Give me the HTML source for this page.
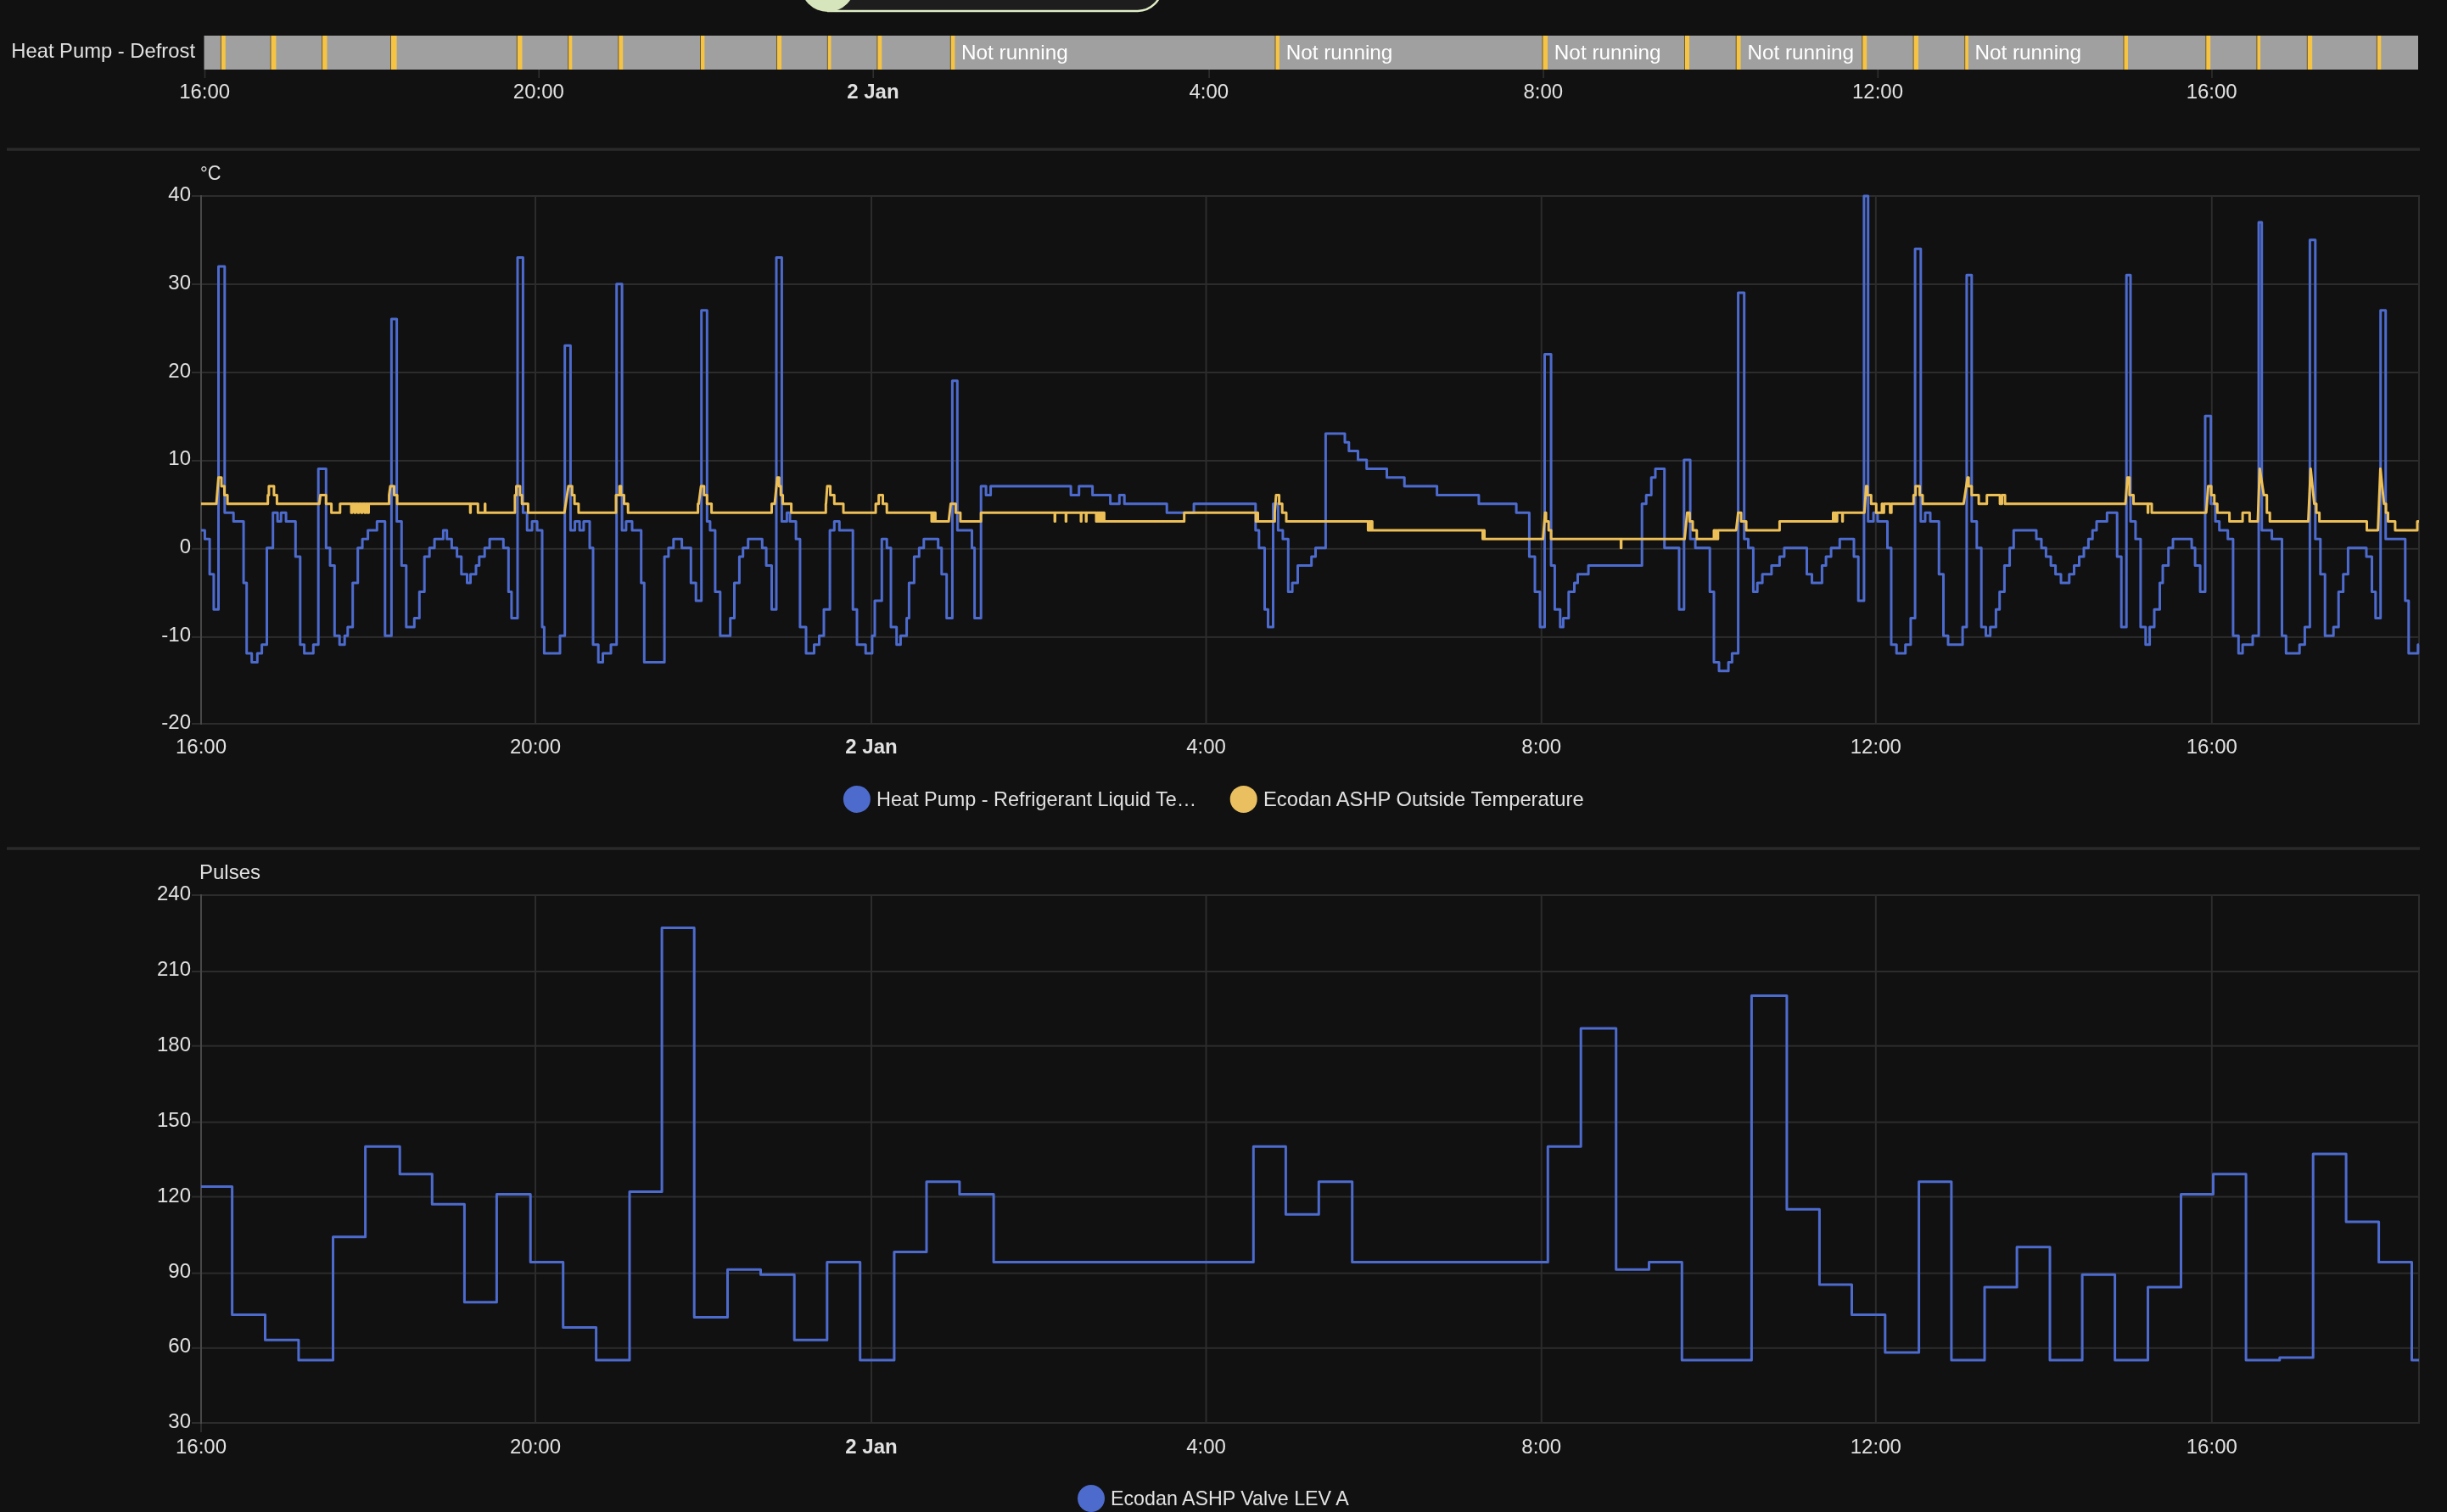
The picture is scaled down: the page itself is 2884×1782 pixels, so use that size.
<!DOCTYPE html><html><head><meta charset="utf-8"><title>History</title><style>
html,body{margin:0;padding:0;background:#111111;width:100%;height:100%;overflow:hidden}
svg{display:block;width:100vw;height:100vh;will-change:transform}text{font-family:'Liberation Sans', Arial, sans-serif}
</style></head><body>
<svg viewBox="0 0 2884 1782" preserveAspectRatio="none">
<rect width="2884" height="1782" fill="#111111"/>
<path d="M975 -70H1369V-15A28 28 0 0 1 1341 13H975Z" fill="#1d1d1d"/>
<path d="M975 12.9H1341A28 28 0 0 0 1369 -15V-70" fill="none" stroke="#dfedc6" stroke-width="2.5"/>
<circle cx="975.6" cy="-18.3" r="32.2" fill="#d7e5bc"/>
<text x="230" y="68.3" font-size="24" fill="#e1e1e1" text-anchor="end" textLength="216.7" lengthAdjust="spacingAndGlyphs">Heat Pump - Defrost</text>
<rect x="240.5" y="42" width="2609.5" height="40" fill="#a0a0a0"/>
<rect x="260.4" y="42" width="5.4" height="40" fill="#f5c444"/>
<rect x="259.9" y="42" width="1" height="40" fill="#6e5a2c"/>
<rect x="319" y="42" width="6.4" height="40" fill="#f5c444"/>
<rect x="318.5" y="42" width="1" height="40" fill="#6e5a2c"/>
<rect x="379.6" y="42" width="5.9" height="40" fill="#f5c444"/>
<rect x="379.1" y="42" width="1" height="40" fill="#6e5a2c"/>
<rect x="460.5" y="42" width="7.1" height="40" fill="#f5c444"/>
<rect x="460" y="42" width="1" height="40" fill="#6e5a2c"/>
<rect x="609.3" y="42" width="6.2" height="40" fill="#f5c444"/>
<rect x="608.8" y="42" width="1" height="40" fill="#6e5a2c"/>
<rect x="669.7" y="42" width="4.6" height="40" fill="#f5c444"/>
<rect x="669.2" y="42" width="1" height="40" fill="#6e5a2c"/>
<rect x="728.8" y="42" width="5.4" height="40" fill="#f5c444"/>
<rect x="728.3" y="42" width="1" height="40" fill="#6e5a2c"/>
<rect x="825.5" y="42" width="4.9" height="40" fill="#f5c444"/>
<rect x="825" y="42" width="1" height="40" fill="#6e5a2c"/>
<rect x="915.5" y="42" width="5.6" height="40" fill="#f5c444"/>
<rect x="915" y="42" width="1" height="40" fill="#6e5a2c"/>
<rect x="975.3" y="42" width="4.2" height="40" fill="#f5c444"/>
<rect x="974.8" y="42" width="1" height="40" fill="#6e5a2c"/>
<rect x="1033.9" y="42" width="5.4" height="40" fill="#f5c444"/>
<rect x="1033.4" y="42" width="1" height="40" fill="#6e5a2c"/>
<rect x="1120.3" y="42" width="5.1" height="40" fill="#f5c444"/>
<rect x="1119.8" y="42" width="1" height="40" fill="#6e5a2c"/>
<rect x="1503" y="42" width="4.9" height="40" fill="#f5c444"/>
<rect x="1502.5" y="42" width="1" height="40" fill="#6e5a2c"/>
<rect x="1818" y="42" width="6" height="40" fill="#f5c444"/>
<rect x="1817.5" y="42" width="1" height="40" fill="#6e5a2c"/>
<rect x="1985.5" y="42" width="5.5" height="40" fill="#f5c444"/>
<rect x="1985" y="42" width="1" height="40" fill="#6e5a2c"/>
<rect x="2046.2" y="42" width="5.4" height="40" fill="#f5c444"/>
<rect x="2045.7" y="42" width="1" height="40" fill="#6e5a2c"/>
<rect x="2194.8" y="42" width="5.4" height="40" fill="#f5c444"/>
<rect x="2194.3" y="42" width="1" height="40" fill="#6e5a2c"/>
<rect x="2255.1" y="42" width="5.9" height="40" fill="#f5c444"/>
<rect x="2254.6" y="42" width="1" height="40" fill="#6e5a2c"/>
<rect x="2315.7" y="42" width="4.2" height="40" fill="#f5c444"/>
<rect x="2315.2" y="42" width="1" height="40" fill="#6e5a2c"/>
<rect x="2503" y="42" width="5" height="40" fill="#f5c444"/>
<rect x="2502.5" y="42" width="1" height="40" fill="#6e5a2c"/>
<rect x="2599.8" y="42" width="5.4" height="40" fill="#f5c444"/>
<rect x="2599.3" y="42" width="1" height="40" fill="#6e5a2c"/>
<rect x="2659.9" y="42" width="4.2" height="40" fill="#f5c444"/>
<rect x="2659.4" y="42" width="1" height="40" fill="#6e5a2c"/>
<rect x="2719.3" y="42" width="5.9" height="40" fill="#f5c444"/>
<rect x="2718.8" y="42" width="1" height="40" fill="#6e5a2c"/>
<rect x="2801.4" y="42" width="4.9" height="40" fill="#f5c444"/>
<rect x="2800.9" y="42" width="1" height="40" fill="#6e5a2c"/>
<text x="1133" y="70" font-size="24" fill="#ffffff" textLength="125.7" lengthAdjust="spacingAndGlyphs">Not running</text>
<text x="1515.7" y="70" font-size="24" fill="#ffffff" textLength="125.7" lengthAdjust="spacingAndGlyphs">Not running</text>
<text x="1831.8" y="70" font-size="24" fill="#ffffff" textLength="125.7" lengthAdjust="spacingAndGlyphs">Not running</text>
<text x="2059.4" y="70" font-size="24" fill="#ffffff" textLength="125.7" lengthAdjust="spacingAndGlyphs">Not running</text>
<text x="2327.4" y="70" font-size="24" fill="#ffffff" textLength="125.7" lengthAdjust="spacingAndGlyphs">Not running</text>
<rect x="240.7" y="82" width="1.6" height="10" fill="#2f2f2f"/>
<text x="241.2" y="116.4" font-size="24" fill="#e1e1e1" text-anchor="middle">16:00</text>
<rect x="634.4" y="82" width="1.6" height="10" fill="#2f2f2f"/>
<text x="634.9" y="116.4" font-size="24" fill="#e1e1e1" text-anchor="middle">20:00</text>
<rect x="1028.4" y="82" width="1.6" height="10" fill="#2f2f2f"/>
<text x="1028.9" y="116.4" font-size="24" fill="#e1e1e1" text-anchor="middle" font-weight="bold">2 Jan</text>
<rect x="1424.3" y="82" width="1.6" height="10" fill="#2f2f2f"/>
<text x="1424.8" y="116.4" font-size="24" fill="#e1e1e1" text-anchor="middle">4:00</text>
<rect x="1818.3" y="82" width="1.6" height="10" fill="#2f2f2f"/>
<text x="1818.8" y="116.4" font-size="24" fill="#e1e1e1" text-anchor="middle">8:00</text>
<rect x="2212.5" y="82" width="1.6" height="10" fill="#2f2f2f"/>
<text x="2213" y="116.4" font-size="24" fill="#e1e1e1" text-anchor="middle">12:00</text>
<rect x="2606.2" y="82" width="1.6" height="10" fill="#2f2f2f"/>
<text x="2606.7" y="116.4" font-size="24" fill="#e1e1e1" text-anchor="middle">16:00</text>
<rect x="8" y="174.3" width="2844" height="3.5" fill="#2a2a2a"/>
<rect x="8" y="998.3" width="2844" height="3.5" fill="#2a2a2a"/>
<rect x="226" y="230" width="2626" height="2" fill="#2c2c2c"/>
<text x="225" y="237.2" font-size="24" fill="#e1e1e1" text-anchor="end">40</text>
<rect x="226" y="334" width="2626" height="2" fill="#2c2c2c"/>
<text x="225" y="340.9" font-size="24" fill="#e1e1e1" text-anchor="end">30</text>
<rect x="226" y="438" width="2626" height="2" fill="#2c2c2c"/>
<text x="225" y="444.5" font-size="24" fill="#e1e1e1" text-anchor="end">20</text>
<rect x="226" y="542" width="2626" height="2" fill="#2c2c2c"/>
<text x="225" y="548.2" font-size="24" fill="#e1e1e1" text-anchor="end">10</text>
<rect x="226" y="645.8" width="2626" height="2" fill="#2c2c2c"/>
<text x="225" y="651.9" font-size="24" fill="#e1e1e1" text-anchor="end">0</text>
<rect x="226" y="749.9" width="2626" height="2" fill="#2c2c2c"/>
<text x="225" y="755.5" font-size="24" fill="#e1e1e1" text-anchor="end">-10</text>
<rect x="226" y="852" width="2626" height="2" fill="#2c2c2c"/>
<text x="225" y="859.2" font-size="24" fill="#e1e1e1" text-anchor="end">-20</text>
<rect x="630" y="230" width="2" height="624" fill="#2c2c2c"/>
<rect x="1026" y="230" width="2" height="624" fill="#2c2c2c"/>
<rect x="1420.5" y="230" width="2" height="624" fill="#2c2c2c"/>
<rect x="1815.7" y="230" width="2" height="624" fill="#2c2c2c"/>
<rect x="2209.8" y="230" width="2" height="624" fill="#2c2c2c"/>
<rect x="2605.8" y="230" width="2" height="624" fill="#2c2c2c"/>
<rect x="2850" y="230" width="2" height="624" fill="#2c2c2c"/>
<rect x="236" y="230" width="2" height="624" fill="#474747"/>
<text x="237" y="888" font-size="24" fill="#e1e1e1" text-anchor="middle">16:00</text>
<text x="631" y="888" font-size="24" fill="#e1e1e1" text-anchor="middle">20:00</text>
<text x="1027" y="888" font-size="24" fill="#e1e1e1" text-anchor="middle" font-weight="bold">2 Jan</text>
<text x="1421.5" y="888" font-size="24" fill="#e1e1e1" text-anchor="middle">4:00</text>
<text x="1816.7" y="888" font-size="24" fill="#e1e1e1" text-anchor="middle">8:00</text>
<text x="2210.8" y="888" font-size="24" fill="#e1e1e1" text-anchor="middle">12:00</text>
<text x="2606.8" y="888" font-size="24" fill="#e1e1e1" text-anchor="middle">16:00</text>
<text x="236" y="212" font-size="24" fill="#e1e1e1" textLength="24.5" lengthAdjust="spacingAndGlyphs">°C</text>
<circle cx="1009.9" cy="941.9" r="16" fill="#4d6bcd"/>
<text x="1033" y="950.2" font-size="24" fill="#e1e1e1" textLength="377.3" lengthAdjust="spacingAndGlyphs">Heat Pump - Refrigerant Liquid Te…</text>
<circle cx="1465.7" cy="941.9" r="16" fill="#e9bf60"/>
<text x="1489" y="950.2" font-size="24" fill="#e1e1e1" textLength="377.6" lengthAdjust="spacingAndGlyphs">Ecodan ASHP Outside Temperature</text>
<rect x="226" y="1054" width="2626" height="2" fill="#2c2c2c"/>
<text x="225" y="1061.2" font-size="24" fill="#e1e1e1" text-anchor="end">240</text>
<rect x="226" y="1144" width="2626" height="2" fill="#2c2c2c"/>
<text x="225" y="1150.1" font-size="24" fill="#e1e1e1" text-anchor="end">210</text>
<rect x="226" y="1231.7" width="2626" height="2" fill="#2c2c2c"/>
<text x="225" y="1238.9" font-size="24" fill="#e1e1e1" text-anchor="end">180</text>
<rect x="226" y="1321.6" width="2626" height="2" fill="#2c2c2c"/>
<text x="225" y="1327.8" font-size="24" fill="#e1e1e1" text-anchor="end">150</text>
<rect x="226" y="1409.5" width="2626" height="2" fill="#2c2c2c"/>
<text x="225" y="1416.6" font-size="24" fill="#e1e1e1" text-anchor="end">120</text>
<rect x="226" y="1499.6" width="2626" height="2" fill="#2c2c2c"/>
<text x="225" y="1505.5" font-size="24" fill="#e1e1e1" text-anchor="end">90</text>
<rect x="226" y="1587.8" width="2626" height="2" fill="#2c2c2c"/>
<text x="225" y="1594.3" font-size="24" fill="#e1e1e1" text-anchor="end">60</text>
<rect x="226" y="1676" width="2626" height="2" fill="#2c2c2c"/>
<text x="225" y="1683.2" font-size="24" fill="#e1e1e1" text-anchor="end">30</text>
<rect x="630" y="1054" width="2" height="624" fill="#2c2c2c"/>
<rect x="1026" y="1054" width="2" height="624" fill="#2c2c2c"/>
<rect x="1420.5" y="1054" width="2" height="624" fill="#2c2c2c"/>
<rect x="1815.7" y="1054" width="2" height="624" fill="#2c2c2c"/>
<rect x="2209.8" y="1054" width="2" height="624" fill="#2c2c2c"/>
<rect x="2605.8" y="1054" width="2" height="624" fill="#2c2c2c"/>
<rect x="2850" y="1054" width="2" height="624" fill="#2c2c2c"/>
<rect x="236" y="1054" width="2" height="624" fill="#474747"/>
<text x="237" y="1712.5" font-size="24" fill="#e1e1e1" text-anchor="middle">16:00</text>
<text x="631" y="1712.5" font-size="24" fill="#e1e1e1" text-anchor="middle">20:00</text>
<text x="1027" y="1712.5" font-size="24" fill="#e1e1e1" text-anchor="middle" font-weight="bold">2 Jan</text>
<text x="1421.5" y="1712.5" font-size="24" fill="#e1e1e1" text-anchor="middle">4:00</text>
<text x="1816.7" y="1712.5" font-size="24" fill="#e1e1e1" text-anchor="middle">8:00</text>
<text x="2210.8" y="1712.5" font-size="24" fill="#e1e1e1" text-anchor="middle">12:00</text>
<text x="2606.8" y="1712.5" font-size="24" fill="#e1e1e1" text-anchor="middle">16:00</text>
<text x="235" y="1036" font-size="24" fill="#e1e1e1" textLength="72" lengthAdjust="spacingAndGlyphs">Pulses</text>
<circle cx="1286" cy="1766" r="16" fill="#4d6bcd"/>
<text x="1309" y="1774.3" font-size="24" fill="#e1e1e1" textLength="280.8" lengthAdjust="spacingAndGlyphs">Ecodan ASHP Valve LEV A</text>
<rect x="236" y="1678" width="2" height="10" fill="#2c2c2c"/>
<path d="M237 624.9H241.4V635.3H247.1V676.8H251.9V718.2H257.5V313.9H264.8V604.2H275.2V614.6H287.1V687.1H290.7V770.1H296.7V780.4H303.3V770.1H308.6V759.7H314.5V645.7H321.7V604.2H327.1V614.6H331.2V604.2H337.1V614.6H348.3V656H353.8V759.7H358.6V770.1H369.3V759.7H375.2V552.4H384.3V645.7H389V666.4H394.3V749.3H400.2V759.7H406.2V749.3H409.8V739H415.7V687.1H421.7V645.7H427.1V635.3H433.6V624.9H444.3V614.6H453.8V749.3H461.4V376.1H467.6V614.6H473.3V666.4H478.8V739H488.3V728.6H494.3V697.5H500.2V656H506.2V645.7H512.1V635.3H522.4V624.9H526.7V635.3H532.4V645.7H538.6V656H543.8V676.8H550.5V687.1H554.5V676.8H561V666.4H564.8V656H571.2V645.7H577.1V635.3H593.3V645.7H599.3V697.5H602.9V728.6H610V303.6H616.4V604.2H621.2V624.9H627.1V614.6H633.1V624.9H639V739H641.4V770.1H660V749.3H665.7V407.2H672.4V624.9H677.6V614.6H683.1V624.9H687.9V614.6H695V645.7H699V759.7H705.2V780.4H710.5V770.1H720V759.7H726.7V334.7H733.1V624.9H737.9V614.6H745V624.9H755.7V687.1H759.3V780.4H783.1V656H787.9V645.7H793.8V635.3H803.6V645.7H814.3V687.1H820.2V707.9H826.7V365.8H833.3V614.6H836.9V624.9H842.9V697.5H848.8V749.3H860.7V728.6H865.5V687.1H871.4V656H875.7V645.7H881.7V635.3H898.3V645.7H903.1V666.4H909.5V718.2H915V303.6H921.4V614.6H927.4V604.2H931V614.6H938.1V635.3H942.9V739H950V770.1H959.5V759.7H965.5V749.3H971V718.2H978.1V624.9H983.3V614.6H989.3V624.9H1005.2V718.2H1010V759.7H1020.2V770.1H1027.9V749.3H1031V707.9H1039.3V635.3H1045.2V645.7H1050V739H1056.7V759.7H1061.4V749.3H1068.6V728.6H1071.4V687.1H1077.4V656H1083.3V645.7H1088.8V635.3H1105.7V645.7H1109.8V676.8H1115.7V728.6H1122.4V448.7H1128.3V624.9H1145.5V645.7H1148.6V728.6H1156.2V573.1H1162.1V583.5H1167.6V573.1H1262.1V583.5H1271.7V573.1H1287.6V583.5H1308.6V593.8H1319.3V583.5H1325.2V593.8H1375.2V604.2H1407.1V593.8H1479.8V624.9H1483.8V645.7H1490.5V718.2H1494.5V739H1500.5V593.8H1506.4V624.9H1511.9V635.3H1518.3V697.5H1523.1V687.1H1529.5V666.4H1545.7V656H1550.5V645.7H1562.4V510.9H1585V521.3H1589.8V531.6H1600.5V542H1610.7V552.4H1634.5V562.7H1655.2V573.1H1693.6V583.5H1742.9V593.8H1787.1V604.2H1802.4V656H1809V697.5H1815V739H1820.5V417.6H1828.1V666.4H1832.4V718.2H1838.8V739H1842.4V728.6H1848.8V697.5H1855.5V687.1H1859.5V676.8H1872.1V666.4H1935.2V593.8H1940.2V583.5H1946.2V562.7H1951V552.4H1961.7V645.7H1979V718.2H1984.8V542H1992.1V635.3H1998.1V645.7H2015.2V697.5H2020V780.4H2026V790.8H2037.1V780.4H2041.4V770.1H2048.6V345H2055.7V635.3H2060.5V645.7H2066.4V697.5H2071.2V687.1H2077.1V676.8H2087.9V666.4H2097.4V656H2102.9V645.7H2129.5V676.8H2135.5V687.1H2147.4V666.4H2152.1V656H2158.1V645.7H2168.3V635.3H2185V656H2190.2V707.9H2196.9V231H2201.7V614.6H2208.1V604.2H2212.9V614.6H2224.5V645.7H2229V759.7H2235.2V770.1H2245.7V759.7H2251.9V728.6H2257.1V293.2H2263.8V614.6H2269V604.2H2275V614.6H2285.2V676.8H2290.5V749.3H2296V759.7H2313.1V739H2317.9V324.3H2323.8V614.6H2329.8V645.7H2335.2V739H2340.5V749.3H2345.7V739H2352.4V718.2H2356.7V697.5H2362.4V666.4H2368.6V645.7H2373.3V624.9H2400V635.3H2406V645.7H2411.4V656H2417.1V666.4H2422.6V676.8H2429V687.1H2438.8V676.8H2444.5V666.4H2450.5V656H2456V645.7H2461.4V635.3H2466.2V624.9H2471V614.6H2483.3V604.2H2495.2V656H2500.2V739H2506.2V324.3H2511V614.6H2516.9V635.3H2522.9V739H2528.8V759.7H2533.6V739H2539V718.2H2545.5V687.1H2549V666.4H2555.7V645.7H2561V635.3H2583.1V645.7H2587.1V666.4H2593.1V697.5H2599V490.2H2605.7V593.8H2611V614.6H2615.7V624.9H2625.7V635.3H2631.9V749.3H2638.3V770.1H2643.1V759.7H2655V749.3H2662.1V262.1H2665.7V624.9H2677.6V635.3H2689.5V749.3H2694.3V770.1H2710.2V759.7H2716.4V739H2722.4V282.8H2728.8V635.3H2734.8V676.8H2740.2V749.3H2750.2V739H2756.2V697.5H2761.7V676.8H2767.4V645.7H2789V656H2795.5V697.5H2799.8V728.6H2805.7V365.8H2811.7V635.3H2834.8V707.9H2838.8V770.1H2849.8V759.7H2851" fill="none" stroke="#4d6bce" stroke-width="3" stroke-linejoin="round"/>
<path d="M237 593.8H255L257.5 562.7H261V573.1H264.5V583.5H268.1V593.8H315.7V583.5H316.9V573.1H322.9V583.5H326.4V593.8H376.4L377.6 583.5H384.3V593.8H390.6V604.2H400.8V593.8H414V604.2H415V593.8H418V604.2H419V593.8H422V604.2H423V593.8H426V604.2H427V593.8H430V604.2H431V593.8H433.5V604.2H434.5V593.8H458.6V583.5H458.6L460 573.1H464.5V583.5H468.1V593.8H554.2V604.2H554.6V593.8H563.3V604.2H571.5V593.8H571.9V604.2H606.9V583.5H608.5V573.1H612.9V583.5H615.2V593.8H622.4V604.2H665.2L670 573.1H674.3V583.5H677.1V593.8H681.9V604.2H726V583.5H730.2V573.1H731.9V583.5H735.5V593.8H740.2V604.2H822.6V593.8H823.5L826.2 573.1H829.8V583.5H833.3V593.8H838.6V604.2H909.5V593.8H913L916.2 562.7H918.3V573.1H920.2V583.5H922.6V593.8H932.6V604.2H973.3V593.8H973.5L975 573.1H978.6V583.5H983.3V593.8H994V604.2H1032.1V593.8H1035.7V583.5H1040.5V593.8H1045.2V604.2H1098V614.6H1098.4V604.2H1100.2V614.6H1100.6V604.2H1102.4V614.6H1118.1L1120.5 593.8H1126.4V604.2H1131.9V614.6H1156.2V604.2H1243.1V614.6H1243.5V604.2H1256.2V614.6H1256.6V604.2H1274V614.6H1274.4V604.2H1280V614.6H1280.4V604.2H1292V614.6H1293V604.2H1294.5V614.6H1295.5V604.2H1297V614.6H1298V604.2H1299.5V614.6H1300.5V604.2H1301.4V614.6H1395.7V604.2H1480.2V614.6H1481.2V604.2H1482.5V614.6H1502.4V604.2H1502.4L1504 583.5H1507.6V593.8H1511.2V604.2H1516V614.6H1612.4V624.9H1613.5V614.6H1615V624.9H1616V614.6H1617.3V624.9H1747.5V635.3H1748.5V624.9H1749.5V635.3H1818.6L1821 604.2H1822.1V614.6H1825.2V624.9H1828.1V635.3H1910.4V645.7H1910.8V635.3H1985.5L1988.5 604.2H1991.4V614.6H1995V624.9H1999.8V635.3H2020V624.9H2021V635.3H2022.3V624.9H2023.3V635.3H2024.8V624.9H2046.2L2048.6 604.2H2052.1V614.6H2058.1V624.9H2097.4V614.6H2160.5V604.2H2161.5V614.6H2163V604.2H2164V614.6H2165.2V604.2H2171.4V614.6H2171.8V604.2H2197.4L2199.4 573.1H2200.8V583.5H2205.3V593.8H2211.3V604.2H2218V593.8H2218.8V604.2H2220.4V593.8H2227.6V604.2H2229.2V593.8H2255.3V583.5H2257.7V573.1H2262.5V583.5H2266V593.8H2314.3L2319 562.7H2320.2V573.1H2323.8V583.5H2332.1V593.8H2341.7V583.5H2357.1V593.8H2359.5V583.5H2363.1V593.8H2505L2507.4 562.7H2509.8V583.5H2514.5V593.8H2531.4V604.2H2531.8V593.8H2536V604.2H2600.2L2602.6 573.1H2606.2V583.5H2609.8V593.8H2613.3V604.2H2627.6V614.6H2643.1V604.2H2651.4V614.6H2661L2663.3 552.4L2668.1 583.5H2671.7V604.2H2675.2V614.6H2720.5L2723.3 552.4L2727.6 593.8H2730V604.2H2733.6V614.6H2789.5V624.9H2802.6L2805.5 552.4L2809.8 593.8H2812.1V604.2H2814.5V614.6H2822.9V624.9H2849V614.6H2851" fill="none" stroke="#edbf57" stroke-width="3" stroke-linejoin="round"/>
<path d="M237 1398.6H273.6V1549.6H312.5V1579.3H351.9V1603H392.5V1457.8H430.6V1351.2H471.2V1383.8H509.3V1419.3H547.4V1534.8H585.4V1407.5H625.2V1487.4H663.7V1564.4H702.6V1603H742V1404.5H780.1V1093.5H818.2V1552.6H857.5V1496.3H896.5V1502.2H936.2V1579.3H974.8V1487.4H1013.7V1603H1053.9V1475.6H1092V1392.7H1130.9V1407.5H1171.1V1487.4H1477.3V1351.2H1515.4V1431.2H1554.3V1392.7H1593.7V1487.4H1824.3V1351.2H1863.2V1212H1904.7V1496.3H1943.5V1487.4H1982.3V1603H2064.4V1173.5H2105.9V1425.2H2144.4V1514.1H2182.5V1549.6H2221.8V1594.1H2261.6V1392.7H2299.9V1603H2339V1517.1H2377.1V1469.7H2416V1603H2454.1V1502.2H2492.6V1603H2531.5V1517.1H2570.5V1407.5H2608.5V1383.8H2647.1V1603H2686.8V1600H2726.2V1360.1H2765.1V1440H2803.6V1487.4H2842.5V1603H2851" fill="none" stroke="#4d6bce" stroke-width="3" stroke-linejoin="round"/>
</svg></body></html>
